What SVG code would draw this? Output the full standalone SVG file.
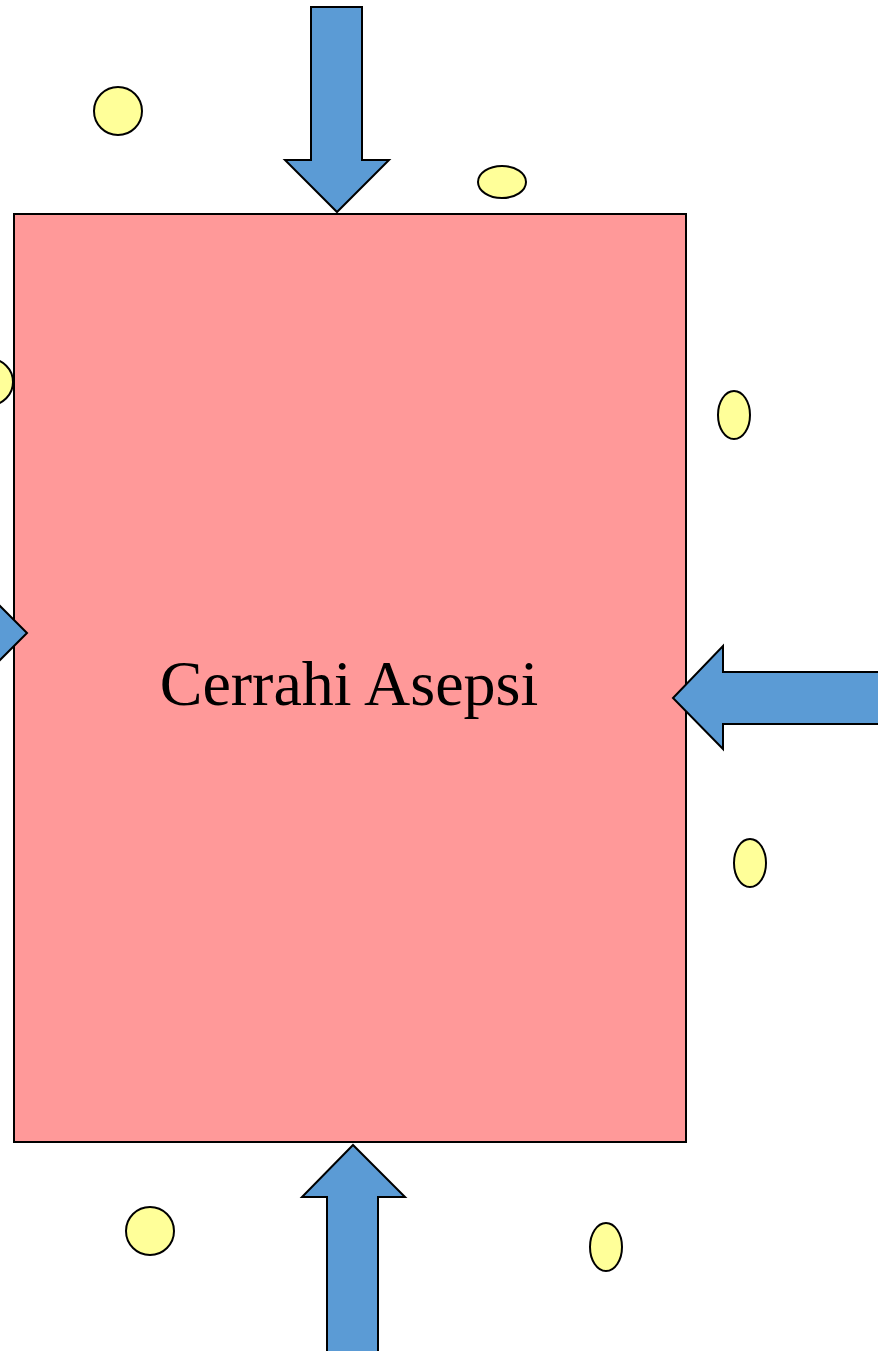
<svg xmlns="http://www.w3.org/2000/svg" width="878" height="1351" viewBox="0 0 878 1351">
<style>
.arrow{fill:#5B9BD5;stroke:#000;stroke-width:2;stroke-linejoin:miter}
.dot{fill:#FFFF99;stroke:#000;stroke-width:2}
.box{fill:#FF9999;stroke:#000;stroke-width:2}
.lbl{font-family:"Liberation Serif",serif;font-size:64px;fill:#000}
</style>
<rect width="878" height="1351" fill="#fff"/>
<g id="node-main">
<rect class="box" x="14" y="214" width="672" height="928"/>
<text class="lbl" x="349" y="705" text-anchor="middle">Cerrahi Asepsi</text>
</g>
<g id="connectors">
<polygon class="arrow" points="311,7 362,7 362,160 389,160 337,212 285,160 311,160"/>
<polygon class="arrow" points="-40,607 -24,607 -24,582 27,633 -24,684 -24,659 -40,659"/>
<polygon class="arrow" points="890,672 723,672 723,646 673,698 723,749 723,724 890,724"/>
<polygon class="arrow" points="327,1360 327,1197 302,1197 353,1145 405,1197 378,1197 378,1360"/>
</g>
<g id="particles">
<circle class="dot" cx="118" cy="111" r="24"/>
<ellipse class="dot" cx="502" cy="182" rx="24" ry="16"/>
<circle class="dot" cx="-10" cy="382" r="23"/>
<ellipse class="dot" cx="734" cy="415" rx="16" ry="24"/>
<ellipse class="dot" cx="750" cy="863" rx="16" ry="24"/>
<circle class="dot" cx="150" cy="1231" r="24"/>
<ellipse class="dot" cx="606" cy="1247" rx="16" ry="24"/>
</g>
</svg>
